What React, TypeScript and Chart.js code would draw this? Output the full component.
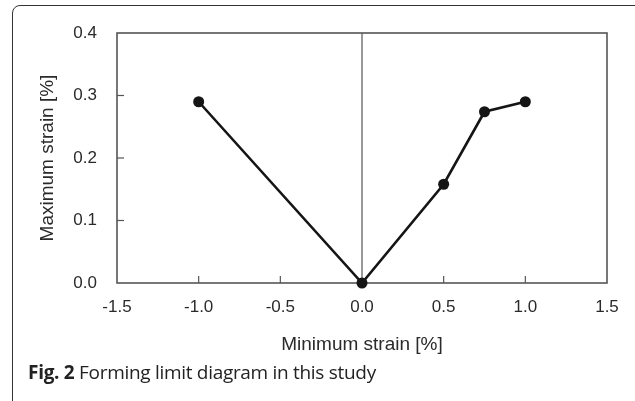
import React, { useEffect, useRef } from "react";
import { Chart, registerables } from "chart.js";

Chart.register(...registerables);

const minStrain = [-1.0, 0.0, 0.5, 0.75, 1.0];
const maxStrain = [0.29, 0.0, 0.158, 0.274, 0.29];
const xRange = [-1.5, 1.5];
const yRange = [0.0, 0.4];
const xTitle = "Minimum strain [%]";
const yTitle = "Maximum strain [%]";
const captionBold = "Fig. 2";
const captionText = " Forming limit diagram in this study";

const FONT = "'Liberation Sans', Arial, sans-serif";

const framePlugin = {
  id: "framePlugin",
  beforeDatasetsDraw(chart: any) {
    const { ctx, chartArea } = chart;
    const xs = chart.scales.x;
    const ys = chart.scales.y;
    const { left, right, top, bottom } = chartArea;
    ctx.save();
    ctx.strokeStyle = "#555";
    ctx.lineWidth = 1.2;
    const x0 = xs.getPixelForValue(0);
    ctx.beginPath();
    ctx.moveTo(x0, top);
    ctx.lineTo(x0, bottom);
    ctx.stroke();
    xs.ticks.forEach((t: any) => {
      if (Math.abs(t.value) < 1e-9 || t.value <= xRange[0] || t.value >= xRange[1]) return;
      const px = xs.getPixelForValue(t.value);
      ctx.beginPath();
      ctx.moveTo(px, bottom);
      ctx.lineTo(px, bottom - 7);
      ctx.stroke();
    });
    ys.ticks.forEach((t: any) => {
      if (t.value <= yRange[0] + 1e-9 || t.value >= yRange[1] - 1e-9) return;
      const py = ys.getPixelForValue(t.value);
      ctx.beginPath();
      ctx.moveTo(left, py);
      ctx.lineTo(left + 7, py);
      ctx.stroke();
    });
    ctx.lineWidth = 1.6;
    ctx.strokeRect(left, top, right - left, bottom - top);
    ctx.restore();
  },
};

export default function App() {
  const ref = useRef<HTMLCanvasElement | null>(null);
  useEffect(() => {
    if (!ref.current) return;
    const tickFont = { family: FONT, size: 17 };
    const titleFont = { family: FONT, size: 19 };
    const chart = new Chart(ref.current, {
      type: "scatter",
      data: {
        datasets: [
          {
            data: minStrain.map((x, i) => ({ x, y: maxStrain[i] })),
            showLine: true,
            borderColor: "#151515",
            backgroundColor: "#151515",
            borderWidth: 2.6,
            pointRadius: 5.5,
            pointBorderWidth: 0,
            clip: false as any,
          },
        ],
      },
      options: {
        animation: false,
        responsive: false,
        layout: { padding: { top: 33, right: 28, left: 0, bottom: 0 } },
        plugins: { legend: { display: false }, tooltip: { enabled: false } },
        scales: {
          x: {
            type: "linear",
            min: xRange[0],
            max: xRange[1],
            grid: { display: false, drawTicks: false },
            border: { display: false },
            ticks: {
              stepSize: 0.5,
              padding: 14,
              maxRotation: 0,
              color: "#2a2a2a",
              font: tickFont,
              callback: (v: any) => Number(v).toFixed(1),
            },
            title: { display: true, text: xTitle, color: "#2a2a2a", font: titleFont, padding: { top: 0, bottom: 45 } },
            afterFit: (s: any) => {
              s.height = 118;
            },
          },
          y: {
            type: "linear",
            min: yRange[0],
            max: yRange[1],
            grid: { display: false, drawTicks: false },
            border: { display: false },
            ticks: {
              stepSize: 0.1,
              padding: 20,
              color: "#2a2a2a",
              font: tickFont,
              callback: (v: any) => Number(v).toFixed(1),
            },
            title: { display: true, text: yTitle, color: "#2a2a2a", font: titleFont, padding: { top: 36, bottom: 0 } },
            afterFit: (s: any) => {
              s.width = 117;
            },
          },
        },
      },
      plugins: [framePlugin],
    });
    return () => chart.destroy();
  }, []);

  return (
    <div style={{ position: "absolute", left: 0, top: 0, width: 635, height: 401, overflow: "hidden", background: "#fff" }}>
      <div
        style={{
          position: "absolute",
          left: 12,
          top: 5,
          width: 660,
          height: 440,
          border: "1.5px solid #333",
          borderRadius: 8,
          boxSizing: "border-box",
        }}
      />
      <canvas ref={ref} width={635} height={401} style={{ position: "absolute", left: 0, top: 0, width: 635, height: 401 }} />
      <div
        style={{
          position: "absolute",
          left: 28,
          top: 359,
          fontFamily: "'Open Sans', 'Noto Sans', sans-serif",
          fontSize: 19,
          color: "#222",
          whiteSpace: "nowrap",
          letterSpacing: -0.3,
        }}
      >
        <b>{captionBold}</b>
        {captionText}
      </div>
    </div>
  );
}
